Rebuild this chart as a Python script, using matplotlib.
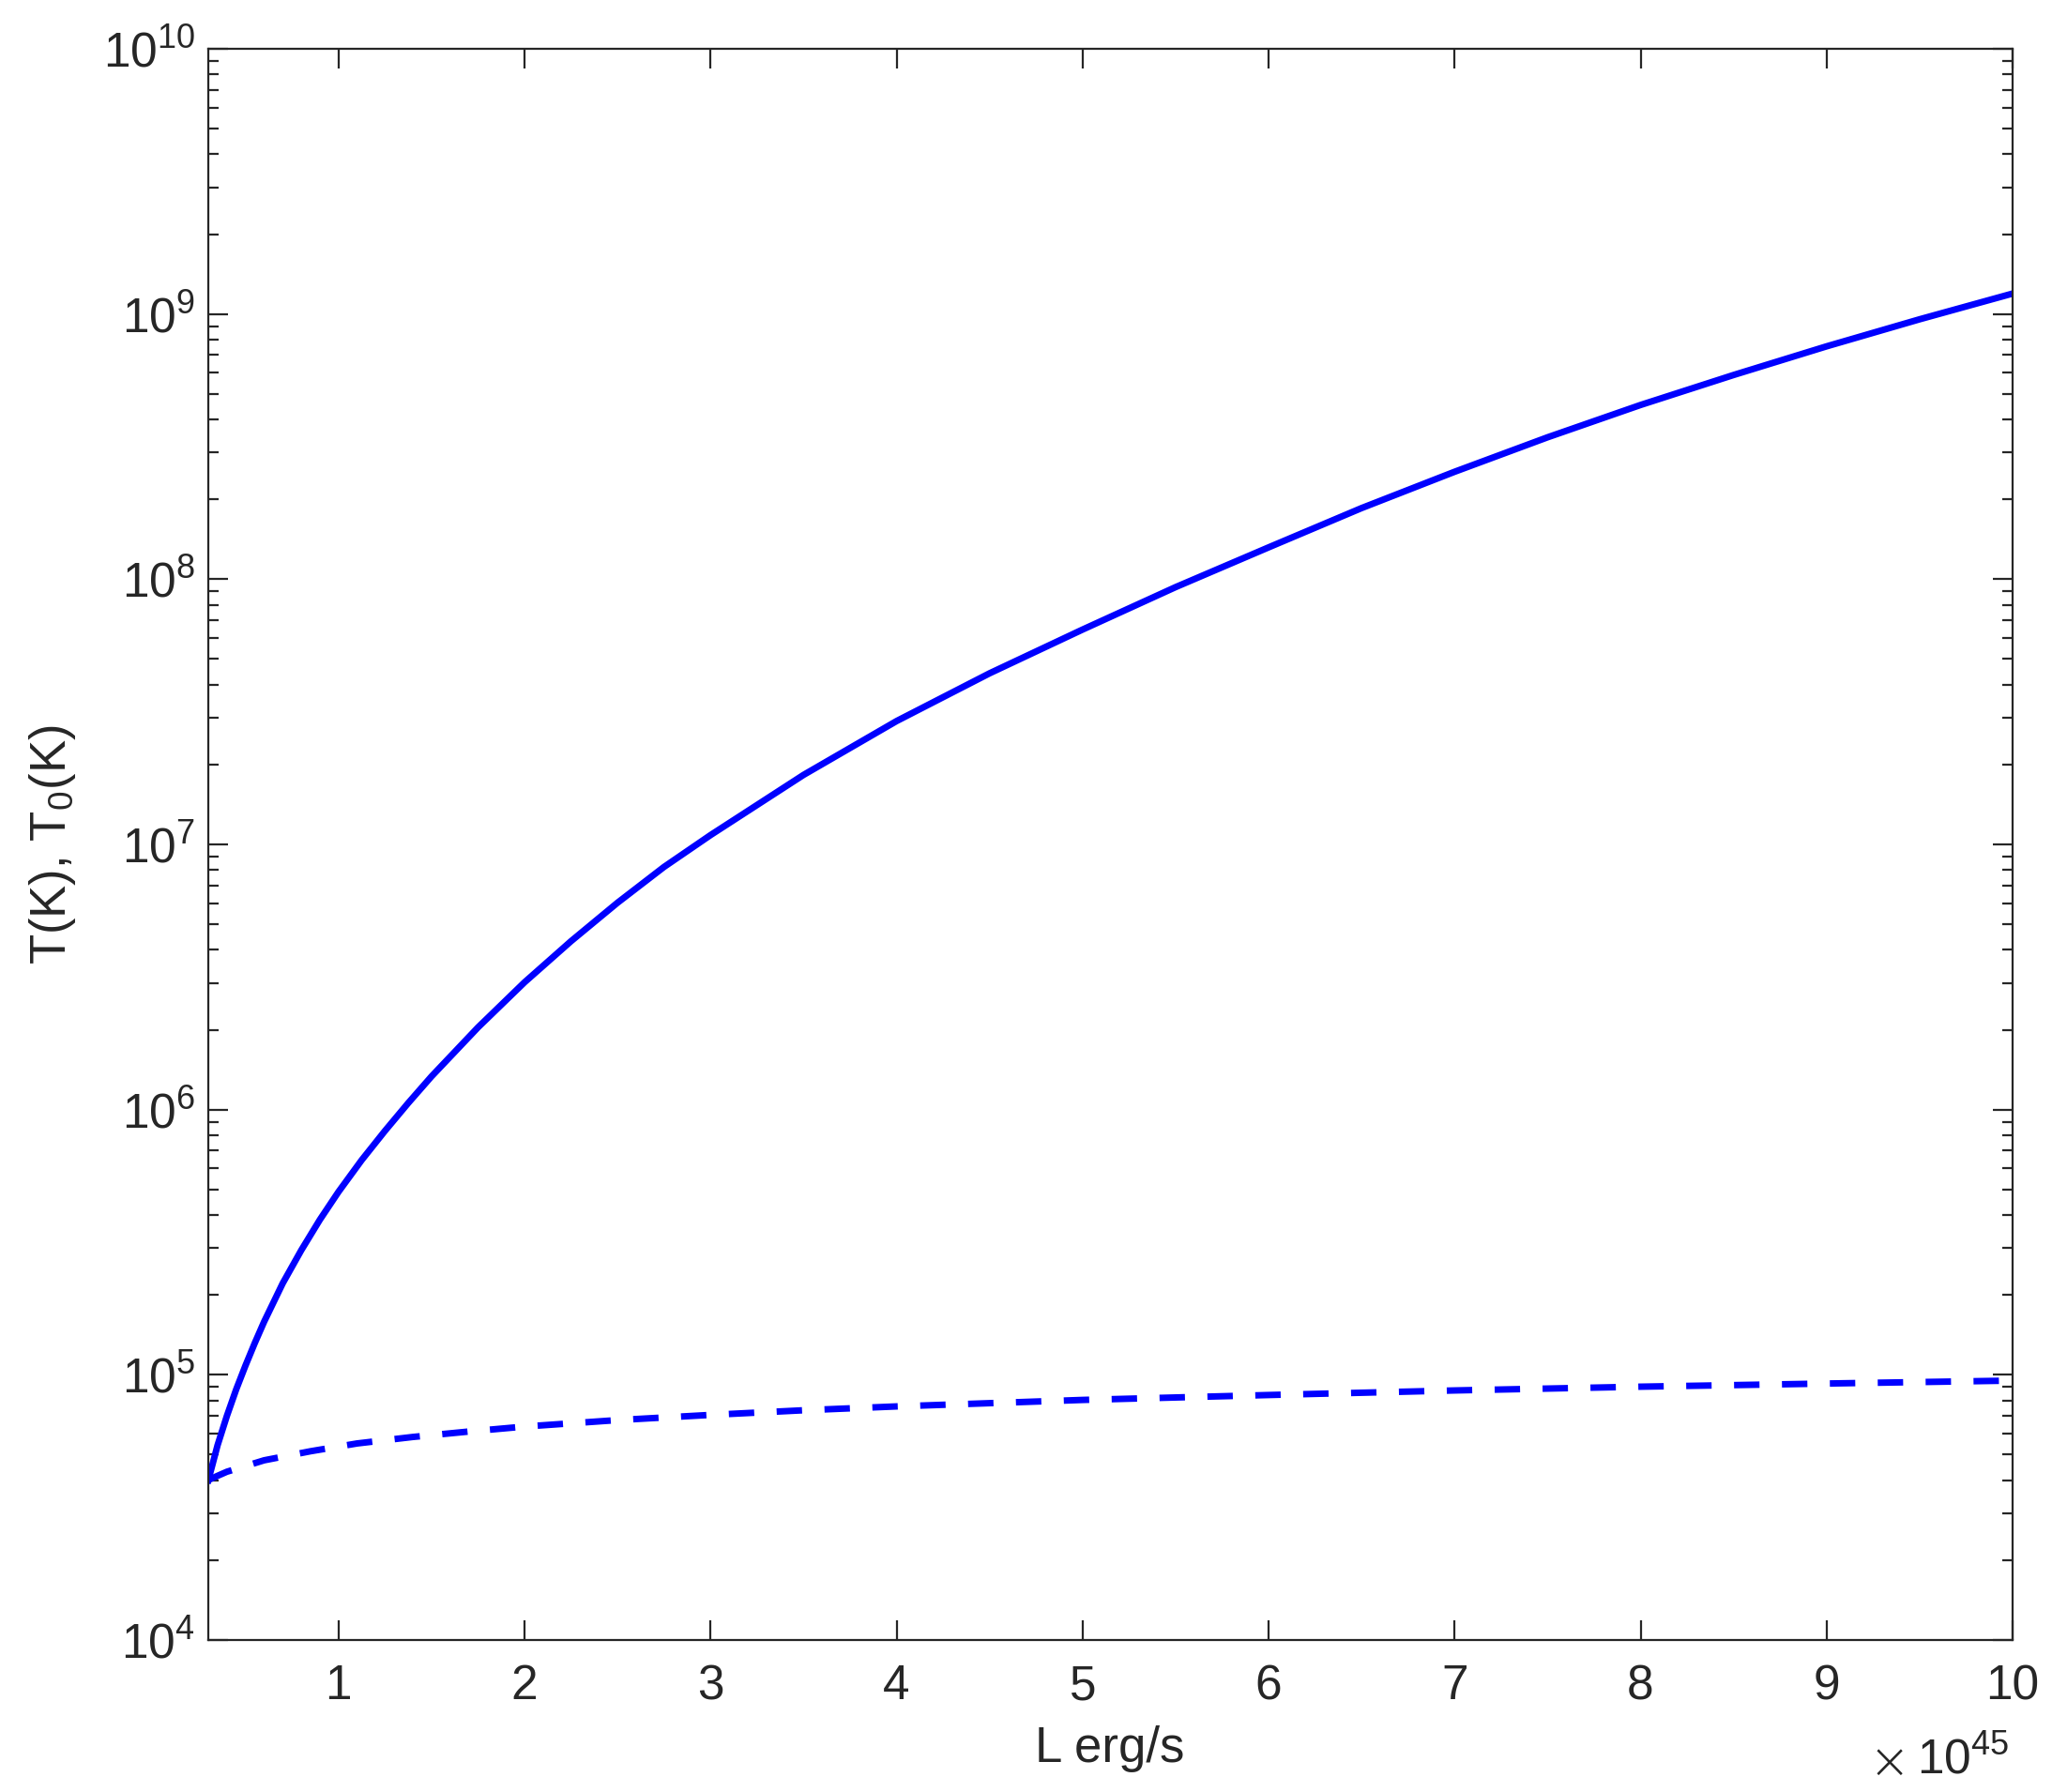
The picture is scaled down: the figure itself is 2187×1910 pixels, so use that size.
import math
import matplotlib
matplotlib.use("Agg")
import matplotlib.pyplot as plt
from matplotlib.ticker import LogLocator, NullFormatter, FixedLocator, FuncFormatter

plt.rcParams['font.family'] = ['Liberation Sans', 'DejaVu Sans']
plt.rcParams['mathtext.fontset'] = 'custom'
plt.rcParams['mathtext.rm'] = 'Liberation Sans'
plt.rcParams['mathtext.it'] = 'Liberation Sans:italic'
plt.rcParams['mathtext.default'] = 'regular'

# Luminosity in units of 1e45 erg/s
L_T = [0.3, 0.35, 0.4, 0.45, 0.5, 0.55, 0.6, 0.7, 0.8, 0.9, 1.0, 1.125, 1.25,
       1.375, 1.5, 1.75, 2.0, 2.25, 2.5, 2.75, 3.0, 3.5, 4.0, 4.5, 5.0, 5.5,
       6.0, 6.5, 7.0, 7.5, 8.0, 8.5, 9.0, 9.5, 10.0]
T = [4.00e4, 5.43e4, 7.00e4, 8.81e4, 1.084e5, 1.318e5, 1.585e5, 2.213e5,
     2.951e5, 3.846e5, 4.898e5, 6.457e5, 8.318e5, 1.059e6, 1.334e6, 2.042e6,
     3.020e6, 4.315e6, 6.026e6, 8.222e6, 1.084e7, 1.828e7, 2.917e7, 4.416e7,
     6.457e7, 9.333e7, 1.318e8, 1.854e8, 2.541e8, 3.428e8, 4.539e8, 5.888e8,
     7.551e8, 9.550e8, 1.194e9]

L_T0 = [0.3, 0.35, 0.4, 0.6, 0.85, 1.1, 1.4, 1.7, 2.0, 2.5, 3.0, 3.5, 4.0,
        5.0, 6.0, 7.0, 8.0, 9.0, 10.0]
T0 = [4.01e4, 4.16e4, 4.31e4, 4.76e4, 5.15e4, 5.51e4, 5.83e4, 6.11e4, 6.38e4,
      6.75e4, 7.06e4, 7.35e4, 7.60e4, 8.04e4, 8.39e4, 8.73e4, 9.02e4, 9.27e4,
      9.51e4]

x_ticks = [1, 2, 3, 4, 5, 6, 7, 8, 9, 10]
y_ticks = [1e4, 1e5, 1e6, 1e7, 1e8, 1e9, 1e10]

W, H, DPI = 2187, 1910, 200
fig = plt.figure(figsize=(W / DPI, H / DPI), dpi=DPI)
ax = fig.add_axes([222 / W, 1 - 1748 / H, (2145 - 222) / W, (1748 - 52) / H])

blue = (0, 0, 1)
ax.plot(L_T, T, color=blue, lw=2.5, solid_joinstyle='round')
ax.plot(L_T0, T0, color=blue, lw=2.5, dashes=[3.9, 3.45])

ax.set_yscale('log')
ax.set_xlim(0.3, 10)
ax.set_ylim(1e4, 1e10)

ax.xaxis.set_major_locator(FixedLocator(x_ticks))
ax.xaxis.set_major_formatter(FuncFormatter(lambda v, p: f"{v:g}"))
ax.yaxis.set_major_locator(FixedLocator(y_ticks))
ax.yaxis.set_major_formatter(FuncFormatter(
    lambda v, p: r'$\mathregular{10^{%d}}$' % round(math.log10(v))))
ax.yaxis.set_minor_locator(LogLocator(base=10, subs=range(2, 10), numticks=100))
ax.yaxis.set_minor_formatter(NullFormatter())

dark = '#262626'
for s in ax.spines.values():
    s.set_color(dark)
    s.set_linewidth(0.8)
ax.tick_params(which='both', direction='in', top=True, right=True,
               color=dark, labelcolor=dark, width=0.8)
ax.tick_params(which='major', length=7.5, labelsize=18.5)
ax.tick_params(axis='x', which='major', pad=9)
ax.tick_params(axis='y', which='major', pad=5)
ax.tick_params(which='minor', length=4)

fig.text(1183 / W, 1 - 1864 / H, 'L erg/s', ha='center', va='center',
         fontsize=19, color=dark)
fig.text(56 / W, 1 - 900 / H, r'T(K), T$_0$(K)', ha='center', va='center',
         rotation=90, fontsize=19, color=dark)
fig.text(2141 / W, 1 - 1876 / H, r'$\mathregular{10^{45}}$', ha='right',
         va='center', fontsize=18.5, color=dark)
fig.text(2014 / W, 1 - 1880 / H, '\u00d7', ha='center', va='center',
         fontsize=19, color=dark, family=['DejaVu Sans'], fontweight='light')

fig.savefig('out.png', dpi=DPI, facecolor='white')
